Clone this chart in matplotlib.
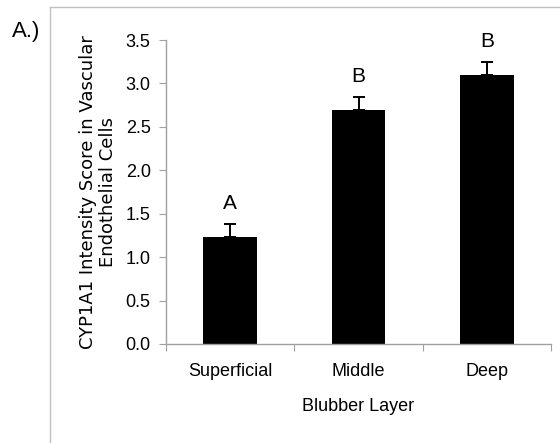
import numpy as np
import matplotlib
matplotlib.use("Agg")
import matplotlib.pyplot as plt
from matplotlib.lines import Line2D

layers = ["Superficial", "Middle", "Deep"]
scores = [1.23, 2.69, 3.10]
errors = [0.15, 0.15, 0.15]
letters = ["A", "B", "B"]

plt.rcParams['font.family'] = ['Liberation Sans', 'DejaVu Sans']

fig = plt.figure(figsize=(5.6, 4.43), dpi=100)
ax = fig.add_axes([0.2964, 0.2235, 0.6876, 0.6862])

x = np.arange(len(layers))
ax.bar(x, scores, width=0.42, color="black", zorder=2)
ax.errorbar(x, scores, yerr=[np.zeros(len(errors)), errors], fmt="none",
            ecolor="black", elinewidth=1.4, capsize=4.5, capthick=1.4, zorder=3)
for xi, s, e, lab in zip(x, scores, errors, letters):
    ax.annotate(lab, (xi, s + e), xytext=(0, 8), textcoords="offset points",
                ha="center", va="bottom", fontsize=15)

ax.set_xlim(-0.5, 2.5)
ax.set_ylim(0, 3.5)
ax.set_yticks(np.arange(0, 3.51, 0.5))
ax.set_yticklabels(["%.1f" % v for v in np.arange(0, 3.51, 0.5)], fontsize=13)
ax.set_xticks([-0.5, 0.5, 1.5, 2.5])
ax.set_xticklabels([])
ax.set_xticks(x, minor=True)
ax.set_xticklabels(layers, minor=True, fontsize=13)
ax.tick_params(axis="x", which="minor", length=0, pad=14)
ax.tick_params(axis="x", which="major", length=5, color="#a0a0a0", direction="out")
ax.tick_params(axis="y", length=5, color="#a0a0a0", direction="out", pad=6)

for side in ["top", "right"]:
    ax.spines[side].set_visible(False)
for side in ["left", "bottom"]:
    ax.spines[side].set_color("#a0a0a0")
    ax.spines[side].set_linewidth(1.0)

ax.set_xlabel("Blubber Layer", fontsize=13, labelpad=13)
ax.set_ylabel("CYP1A1 Intensity Score in Vascular\nEndothelial Cells", fontsize=13,
              family=["DejaVu Sans"], labelpad=6, linespacing=1.17)

fig.text(0.021, 0.928, "A.)", fontsize=16, ha="left", va="center")
fig.add_artist(Line2D([50 / 560, 1.0], [1 - 7 / 443, 1 - 7 / 443],
                      transform=fig.transFigure, color="#c0c0c0", lw=1.0))
fig.add_artist(Line2D([50 / 560, 50 / 560], [0, 1 - 7 / 443],
                      transform=fig.transFigure, color="#c0c0c0", lw=1.0))

fig.savefig("out.png", dpi=100)
